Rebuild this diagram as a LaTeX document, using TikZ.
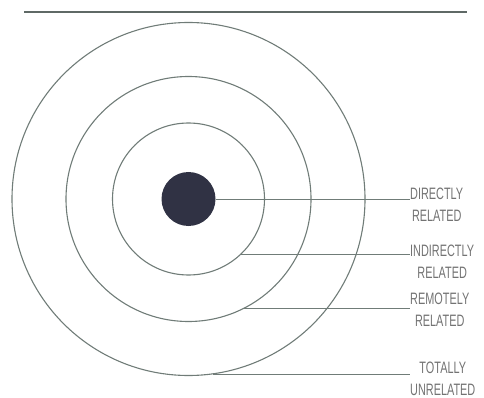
\documentclass[tikz,border=0pt]{standalone}
\usepackage{fontspec}
\newfontfamily\labelfont[FakeStretch=0.66]{Liberation Sans}
\usetikzlibrary{positioning}
\definecolor{RingGray}{RGB}{112,124,120}
\definecolor{LabelGray}{RGB}{115,115,115}
\definecolor{DotNavy}{RGB}{48,50,68}
\definecolor{RuleGray}{RGB}{95,105,102}

\begin{document}
\begin{tikzpicture}[x=1pt, y=-1pt,
	ring/.style={circle, draw=RingGray, line width=1.1pt, inner sep=0pt},
	lead/.style={draw=RingGray, line width=1pt},
	tag/.style={anchor=north west, inner sep=0pt, align=center, text=LabelGray,
		font=\labelfont\fontsize{16.5}{22}\selectfont}]
	\useasboundingbox (0,0) rectangle (484,398);
	\draw[RuleGray, line width=2.2pt] (24,12) -- (467,12);

	\coordinate (ctr) at (188.5,199);
	\node[circle, fill=DotNavy, minimum size=54pt, inner sep=0pt] (dot) at (ctr) {};
	\node[ring, minimum size=152pt] (r1) at (ctr) {};
	\node[ring, minimum size=245pt] (r2) at (ctr) {};
	\node[ring, minimum size=353pt] (r3) at (ctr) {};

	\foreach \src/\yy/\t [count=\i] in {
		dot.0/188/{DIRECTLY\\RELATED},
		r1.-47.4/245/{INDIRECTLY\\RELATED},
		r2.-63.6/293/{REMOTELY\\RELATED},
		r3.-82.4/362/{TOTALLY\\UNRELATED}}{
		\node[tag] (lab\i) at (410,\yy) {\t};
		\draw[lead] (\src) -- (\src -| lab\i.west);
	}
\end{tikzpicture}
\end{document}
